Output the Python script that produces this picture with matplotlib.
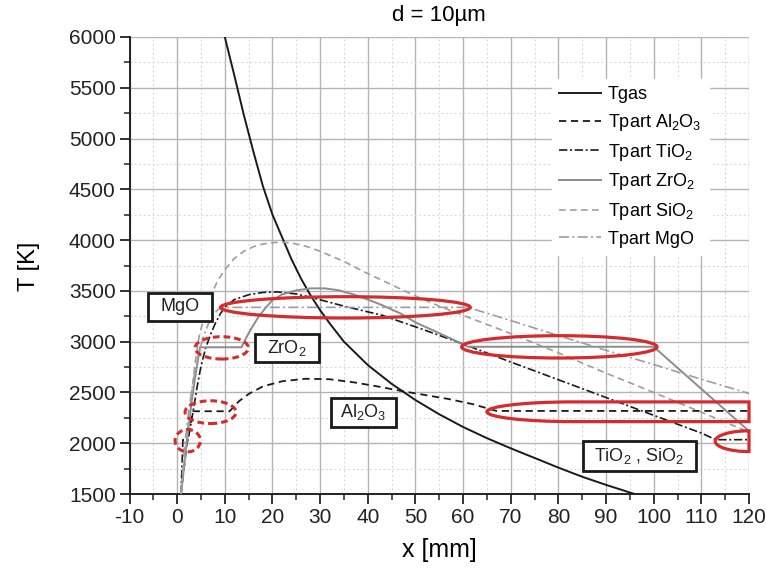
import matplotlib
matplotlib.use("Agg")
import matplotlib.pyplot as plt
from matplotlib.patches import Ellipse, Rectangle, PathPatch
from matplotlib.path import Path
from matplotlib.ticker import MultipleLocator

plt.rcParams['font.family'] = ['Liberation Sans', 'DejaVu Sans']
plt.rcParams['mathtext.fontset'] = 'custom'
plt.rcParams['mathtext.rm'] = 'Liberation Sans'
plt.rcParams['mathtext.it'] = 'Liberation Sans:italic'
plt.rcParams['mathtext.bf'] = 'Liberation Sans:bold'
plt.rcParams['axes.unicode_minus'] = False

# ---- temperature profiles along the jet axis, x in mm, T in K ----
x_gas = [10, 12, 14, 16, 18, 20, 22, 24, 26, 28, 30, 32, 35, 40, 45, 50,
         55, 60, 65, 70, 75, 80, 85, 90, 96]
t_gas = [6000, 5620, 5230, 4870, 4530, 4250, 4030, 3810, 3620, 3455, 3310,
         3180, 3000, 2770, 2585, 2425, 2285, 2160, 2050, 1950, 1855, 1760,
         1670, 1590, 1500]

x_al2o3 = [0.8, 2.0, 3.3, 11.0, 12.0, 13.0, 15.0, 18.0, 22.0, 27.0, 32.0,
           37.0, 42.0, 47.0, 52.0, 57.0, 62.0, 67.0, 120.0]
t_al2o3 = [1500, 1980, 2315, 2315, 2365, 2415, 2485, 2560, 2610, 2635, 2630,
           2600, 2560, 2515, 2475, 2435, 2385, 2318, 2318]

x_tio2 = [0.8, 1.2, 2.3, 3.4, 4.2, 5.0, 6.0, 7.0, 8.0, 9.0, 10.0, 12.0, 15.0,
          18.0, 21.0, 25.0, 29.0, 35.0, 43.0, 51.0, 60.0, 70.0, 80.0, 90.0,
          100.0, 110.0, 113.0, 120.0]
t_tio2 = [1500, 2035, 2035, 2330, 2560, 2760, 2940, 3070, 3180, 3270, 3340,
          3415, 3462, 3485, 3490, 3470, 3425, 3350, 3260, 3130, 2977, 2800,
          2625, 2450, 2275, 2100, 2035, 2035]

x_zro2 = [0.8, 2.0, 3.0, 4.0, 4.8, 13.5, 14.5, 15.5, 17.0, 18.5, 20.0, 22.0,
          25.0, 28.0, 31.0, 34.0, 37.0, 40.0, 43.0, 47.0, 50.0, 54.0, 57.0,
          61.0, 100.0, 120.0]
t_zro2 = [1500, 2000, 2400, 2720, 2945, 2945, 3040, 3125, 3240, 3330, 3410,
          3465, 3505, 3525, 3525, 3505, 3465, 3415, 3360, 3275, 3190, 3105,
          3040, 2950, 2950, 2120]

x_sio2 = [0.8, 1.8, 2.8, 3.8, 4.6, 5.5, 6.5, 7.5, 8.5, 10.0, 12.0, 14.0, 16.0,
          18.0, 20.0, 22.0, 24.0, 27.0, 30.0, 35.0, 40.0, 45.0, 50.0, 55.0,
          60.0, 70.0, 80.0, 90.0, 100.0, 110.0, 120.0]
t_sio2 = [1500, 1950, 2400, 2800, 3050, 3220, 3380, 3500, 3600, 3710, 3820,
          3890, 3935, 3962, 3975, 3980, 3972, 3940, 3890, 3790, 3670, 3560,
          3450, 3350, 3260, 3080, 2890, 2690, 2500, 2305, 2110]

x_mgo = [0.8, 1.5, 2.5, 3.5, 4.5, 5.5, 6.5, 7.5, 8.5, 9.5, 61.0, 70.0, 80.0,
         90.0, 100.0, 110.0, 120.0]
t_mgo = [1500, 1950, 2350, 2650, 2880, 3050, 3170, 3260, 3315, 3338, 3338,
         3208, 3060, 2915, 2775, 2630, 2490]

title = "d = 10µm"
x_label = "x [mm]"
y_label = "T [K]"

RED = "#d42b2b"

fig = plt.figure(figsize=(7.66, 5.70), dpi=100)
ax = fig.add_axes([0.1691, 0.1333, 0.8087, 0.8018])

ax.set_xlim(-10, 120)
ax.set_ylim(1500, 6000)
ax.xaxis.set_major_locator(MultipleLocator(10))
ax.xaxis.set_minor_locator(MultipleLocator(5))
ax.yaxis.set_major_locator(MultipleLocator(500))
ax.yaxis.set_minor_locator(MultipleLocator(250))

ax.grid(which='major', color='#b4b4b4', lw=1.0, ls='-', zorder=0)
ax.grid(which='minor', color='#d2d2d2', lw=0.8, ls=(0, (1.5, 2.5)), zorder=0)
ax.set_axisbelow(True)

for side in ('top', 'right'):
    ax.spines[side].set_visible(False)
for side in ('left', 'bottom'):
    ax.spines[side].set_linewidth(1.4)
    ax.spines[side].set_color('#222222')

ax.tick_params(which='major', direction='out', length=7, width=1.3,
               labelsize=15, pad=3, colors='#222222')
ax.tick_params(which='minor', direction='out', length=4, width=1.1,
               colors='#222222')

ax.plot(x_gas, t_gas, color='#1a1a1a', lw=1.4, ls='-', label='Tgas', zorder=3)
ax.plot(x_al2o3, t_al2o3, color='#1a1a1a', lw=1.3, ls=(0, (4, 2.6)),
        label='Tpart Al$_2$O$_3$', zorder=3)
ax.plot(x_tio2, t_tio2, color='#1a1a1a', lw=1.2, ls=(0, (5, 1.6, 1.2, 1.6)),
        label='Tpart TiO$_2$', zorder=3)
ax.plot(x_zro2, t_zro2, color='#8c8c8c', lw=1.4, ls='-',
        label='Tpart ZrO$_2$', zorder=3)
ax.plot(x_sio2, t_sio2, color='#9e9e9e', lw=1.2, ls=(0, (4, 2.6)),
        label='Tpart SiO$_2$', zorder=3)
ax.plot(x_mgo, t_mgo, color='#9e9e9e', lw=1.2, ls=(0, (6, 2, 1.2, 2)),
        label='Tpart MgO', zorder=3)

leg = ax.legend(loc='upper left', bbox_to_anchor=(0.682, 0.908),
                borderaxespad=0, fontsize=13, frameon=True, fancybox=False,
                framealpha=1.0, handlelength=2.3, handletextpad=0.4,
                labelspacing=0.48, borderpad=0.4)
leg.get_frame().set_edgecolor('white')
leg.get_frame().set_facecolor('white')
leg.set_zorder(4)

# melting-plateau highlights
solid_ellipses = [((35.3, 3338), 52.4, 210), ((80.2, 2949), 41.0, 220)]
for centre, w, h in solid_ellipses:
    ax.add_patch(Ellipse(centre, w, h, fill=False, ec=RED, lw=2.3, zorder=5))

dashed_ellipses = [((9.35, 2939), 11.2, 220), ((7.0, 2306), 10.7, 224),
                   ((2.2, 2025), 5.3, 220)]
for centre, w, h in dashed_ellipses:
    ax.add_patch(Ellipse(centre, w, h, fill=False, ec=RED, lw=2.2,
                         ls=(0, (2.2, 1.3)), zorder=5))


def open_ended_ellipse(x_left, yc, half_w, half_h, x_right):
    """Left half of an ellipse, extended flat to x_right and closed there."""
    k = 0.5523
    xm = x_left + half_w
    verts = [(xm, yc + half_h),
             (xm - k * half_w, yc + half_h), (x_left, yc + k * half_h), (x_left, yc),
             (x_left, yc - k * half_h), (xm - k * half_w, yc - half_h), (xm, yc - half_h),
             (x_right, yc - half_h), (x_right, yc + half_h), (xm, yc + half_h)]
    codes = [Path.MOVETO,
             Path.CURVE4, Path.CURVE4, Path.CURVE4,
             Path.CURVE4, Path.CURVE4, Path.CURVE4,
             Path.LINETO, Path.LINETO, Path.CLOSEPOLY]
    return Path(verts, codes)


open_shapes = [(65.0, 2310, 18.0, 97), (112.9, 2020, 7.0, 102)]
for x_left, yc, hw, hh in open_shapes:
    ax.add_patch(PathPatch(open_ended_ellipse(x_left, yc, hw, hh, 120.0),
                           fill=False, ec=RED, lw=2.3, zorder=5,
                           clip_on=False))

# material labels
boxes = [("MgO", -6.12, 7.31, 3207, 3484),
         ("ZrO$_2$", 16.34, 29.77, 2803, 3079),
         ("Al$_2$O$_3$", 32.29, 45.93, 2161, 2447),
         ("TiO$_2$ , SiO$_2$", 85.17, 108.9, 1727, 2023)]
for text, x0, x1, y0, y1 in boxes:
    ax.add_patch(Rectangle((x0, y0), x1 - x0, y1 - y0, fc='white', ec='#1a1a1a',
                           lw=2.0, zorder=6, clip_on=False))
    ax.text((x0 + x1) / 2, (y0 + y1) / 2, text, ha='center', va='center',
            fontsize=13, color='#222222', zorder=7)

fig.text(439 / 766, 1 - 15 / 570, title, ha='center', va='center', fontsize=16)
fig.text(439 / 766, 1 - 550 / 570, x_label, ha='center', va='center', fontsize=18)
fig.text(29 / 766, 1 - 266 / 570, y_label, ha='center', va='center',
         rotation=90, fontsize=17)

fig.savefig('out.png', dpi=100)
